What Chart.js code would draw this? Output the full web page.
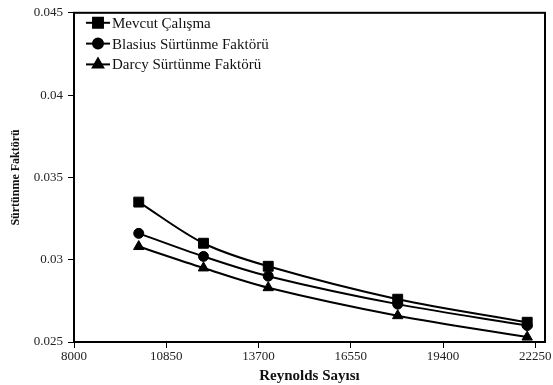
<!DOCTYPE html>
<html>
<head>
<meta charset="utf-8">
<script src="https://cdn.jsdelivr.net/npm/chart.js@4/dist/chart.umd.min.js"></script>
<style>
  html, body { margin:0; padding:0; background:#fff; }
  #wrap { position:relative; width:553px; height:385px; }
</style>
</head>
<body>
<div id="wrap"><canvas id="chart"></canvas></div>
<script>
/* ── Data ─────────────────────────────────────────────── */
const reynolds = [10000, 12000, 14000, 18000, 22000];
const mevcut   = [0.0335, 0.0310, 0.0296, 0.0276, 0.0262];
const blasius  = [0.0316, 0.0302, 0.0290, 0.0273, 0.0260];
const darcy    = [0.0308, 0.0295, 0.0283, 0.0266, 0.0253];

const seriesLabels = ['Mevcut Çalışma', 'Blasius Sürtünme Faktörü', 'Darcy Sürtünme Faktörü'];
const xTicks = [8000, 10850, 13700, 16550, 19400, 22250];
const yTicks = [0.025, 0.03, 0.035, 0.04, 0.045];

const FONT = "'Liberation Serif', 'Times New Roman', serif";

const toPoints = vals => reynolds.map((x, i) => ({ x, y: vals[i] }));

// ── Frame round the plot area + legend inside it ─────────
const framePlugin = {
  id: 'frame',
  afterDraw(chart) {
    const { ctx, chartArea: a } = chart;
    ctx.save();
    ctx.strokeStyle = '#000';
    ctx.lineWidth = 2;
    ctx.strokeRect(a.left, a.top, a.right - a.left, a.bottom - a.top);
    ctx.restore();
  }
};

const legendPlugin = {
  id: 'insideLegend',
  afterDraw(chart) {
    const { ctx, chartArea: a } = chart;
    ctx.save();
    chart.data.datasets.forEach((ds, i) => {
      const y  = a.top + 10 + i * 20.8;
      const x0 = a.left + 12;
      ctx.strokeStyle = '#000';
      ctx.fillStyle = '#000';
      ctx.lineWidth = 2;
      ctx.beginPath();
      ctx.moveTo(x0, y);
      ctx.lineTo(x0 + 24, y);
      ctx.stroke();
      Chart.helpers.drawPoint(ctx, {
        pointStyle: ds.pointStyle, radius: ds.pointRadius, rotation: 0, borderWidth: 1
      }, x0 + 12, y);
      ctx.font = "15px " + FONT;
      ctx.textBaseline = 'middle';
      ctx.textAlign = 'left';
      ctx.fillStyle = '#111';
      ctx.fillText(ds.label, x0 + 26, y + 1);
    });
    ctx.restore();
  }
};

function makeSet(label, vals, style, radius) {
  return {
    label,
    data: toPoints(vals),
    borderColor: '#000',
    backgroundColor: '#000',
    borderWidth: 2,
    pointStyle: style,
    pointRadius: radius,
    pointBackgroundColor: '#000',
    pointBorderColor: '#000',
    pointBorderWidth: 1,
    tension: 0.33,
    fill: false,
  };
}

new Chart(document.getElementById('chart'), {
  type: 'line',
  data: {
    datasets: [
      makeSet(seriesLabels[0], mevcut, 'rect', 7),
      makeSet(seriesLabels[1], blasius, 'circle', 5),
      makeSet(seriesLabels[2], darcy, 'triangle', 6),
    ]
  },
  options: {
    responsive: true, maintainAspectRatio: false, animation: false,
    layout: { padding: { left: 0, right: 7, top: 12, bottom: 0 } },
    plugins: { legend: { display: false }, tooltip: { enabled: false } },
    scales: {
      x: {
        type: 'linear', min: 8000, max: 22550,
        afterBuildTicks: s => { s.ticks = xTicks.map(v => ({ value: v })); },
        afterFit: s => { s.height = 43; },
        ticks: { color:'#222', font:{ family: FONT, size: 13 }, padding: 1, maxRotation: 0,
                 callback: v => String(v) },
        grid: { drawOnChartArea: false, drawTicks: true, tickLength: 6, color: '#000', lineWidth: 1 },
        border: { display: true, color: '#000', width: 2 },
        title: { display: true, text: 'Reynolds Sayısı', color: '#111',
                 font: { family: FONT, size: 15, weight: 'bold' }, padding: { top: 0, bottom: 0 } }
      },
      y: {
        min: 0.025, max: 0.045,
        afterBuildTicks: s => { s.ticks = yTicks.map(v => ({ value: v })); },
        afterFit: s => { s.width = 74; },
        ticks: { color:'#222', font:{ family: FONT, size: 13 }, padding: 5,
                 callback: v => String(+v.toFixed(3)) },
        grid: { drawOnChartArea: false, drawTicks: true, tickLength: 6, color: '#000', lineWidth: 1 },
        border: { display: true, color: '#000', width: 2 },
        title: { display: true, text: 'Sürtünme Faktörü', color: '#111',
                 font: { family: FONT, size: 12, weight: 'bold' }, padding: { top: 9, bottom: 0 } }
      }
    }
  },
  plugins: [framePlugin, legendPlugin]
});
</script>
</body>
</html>
